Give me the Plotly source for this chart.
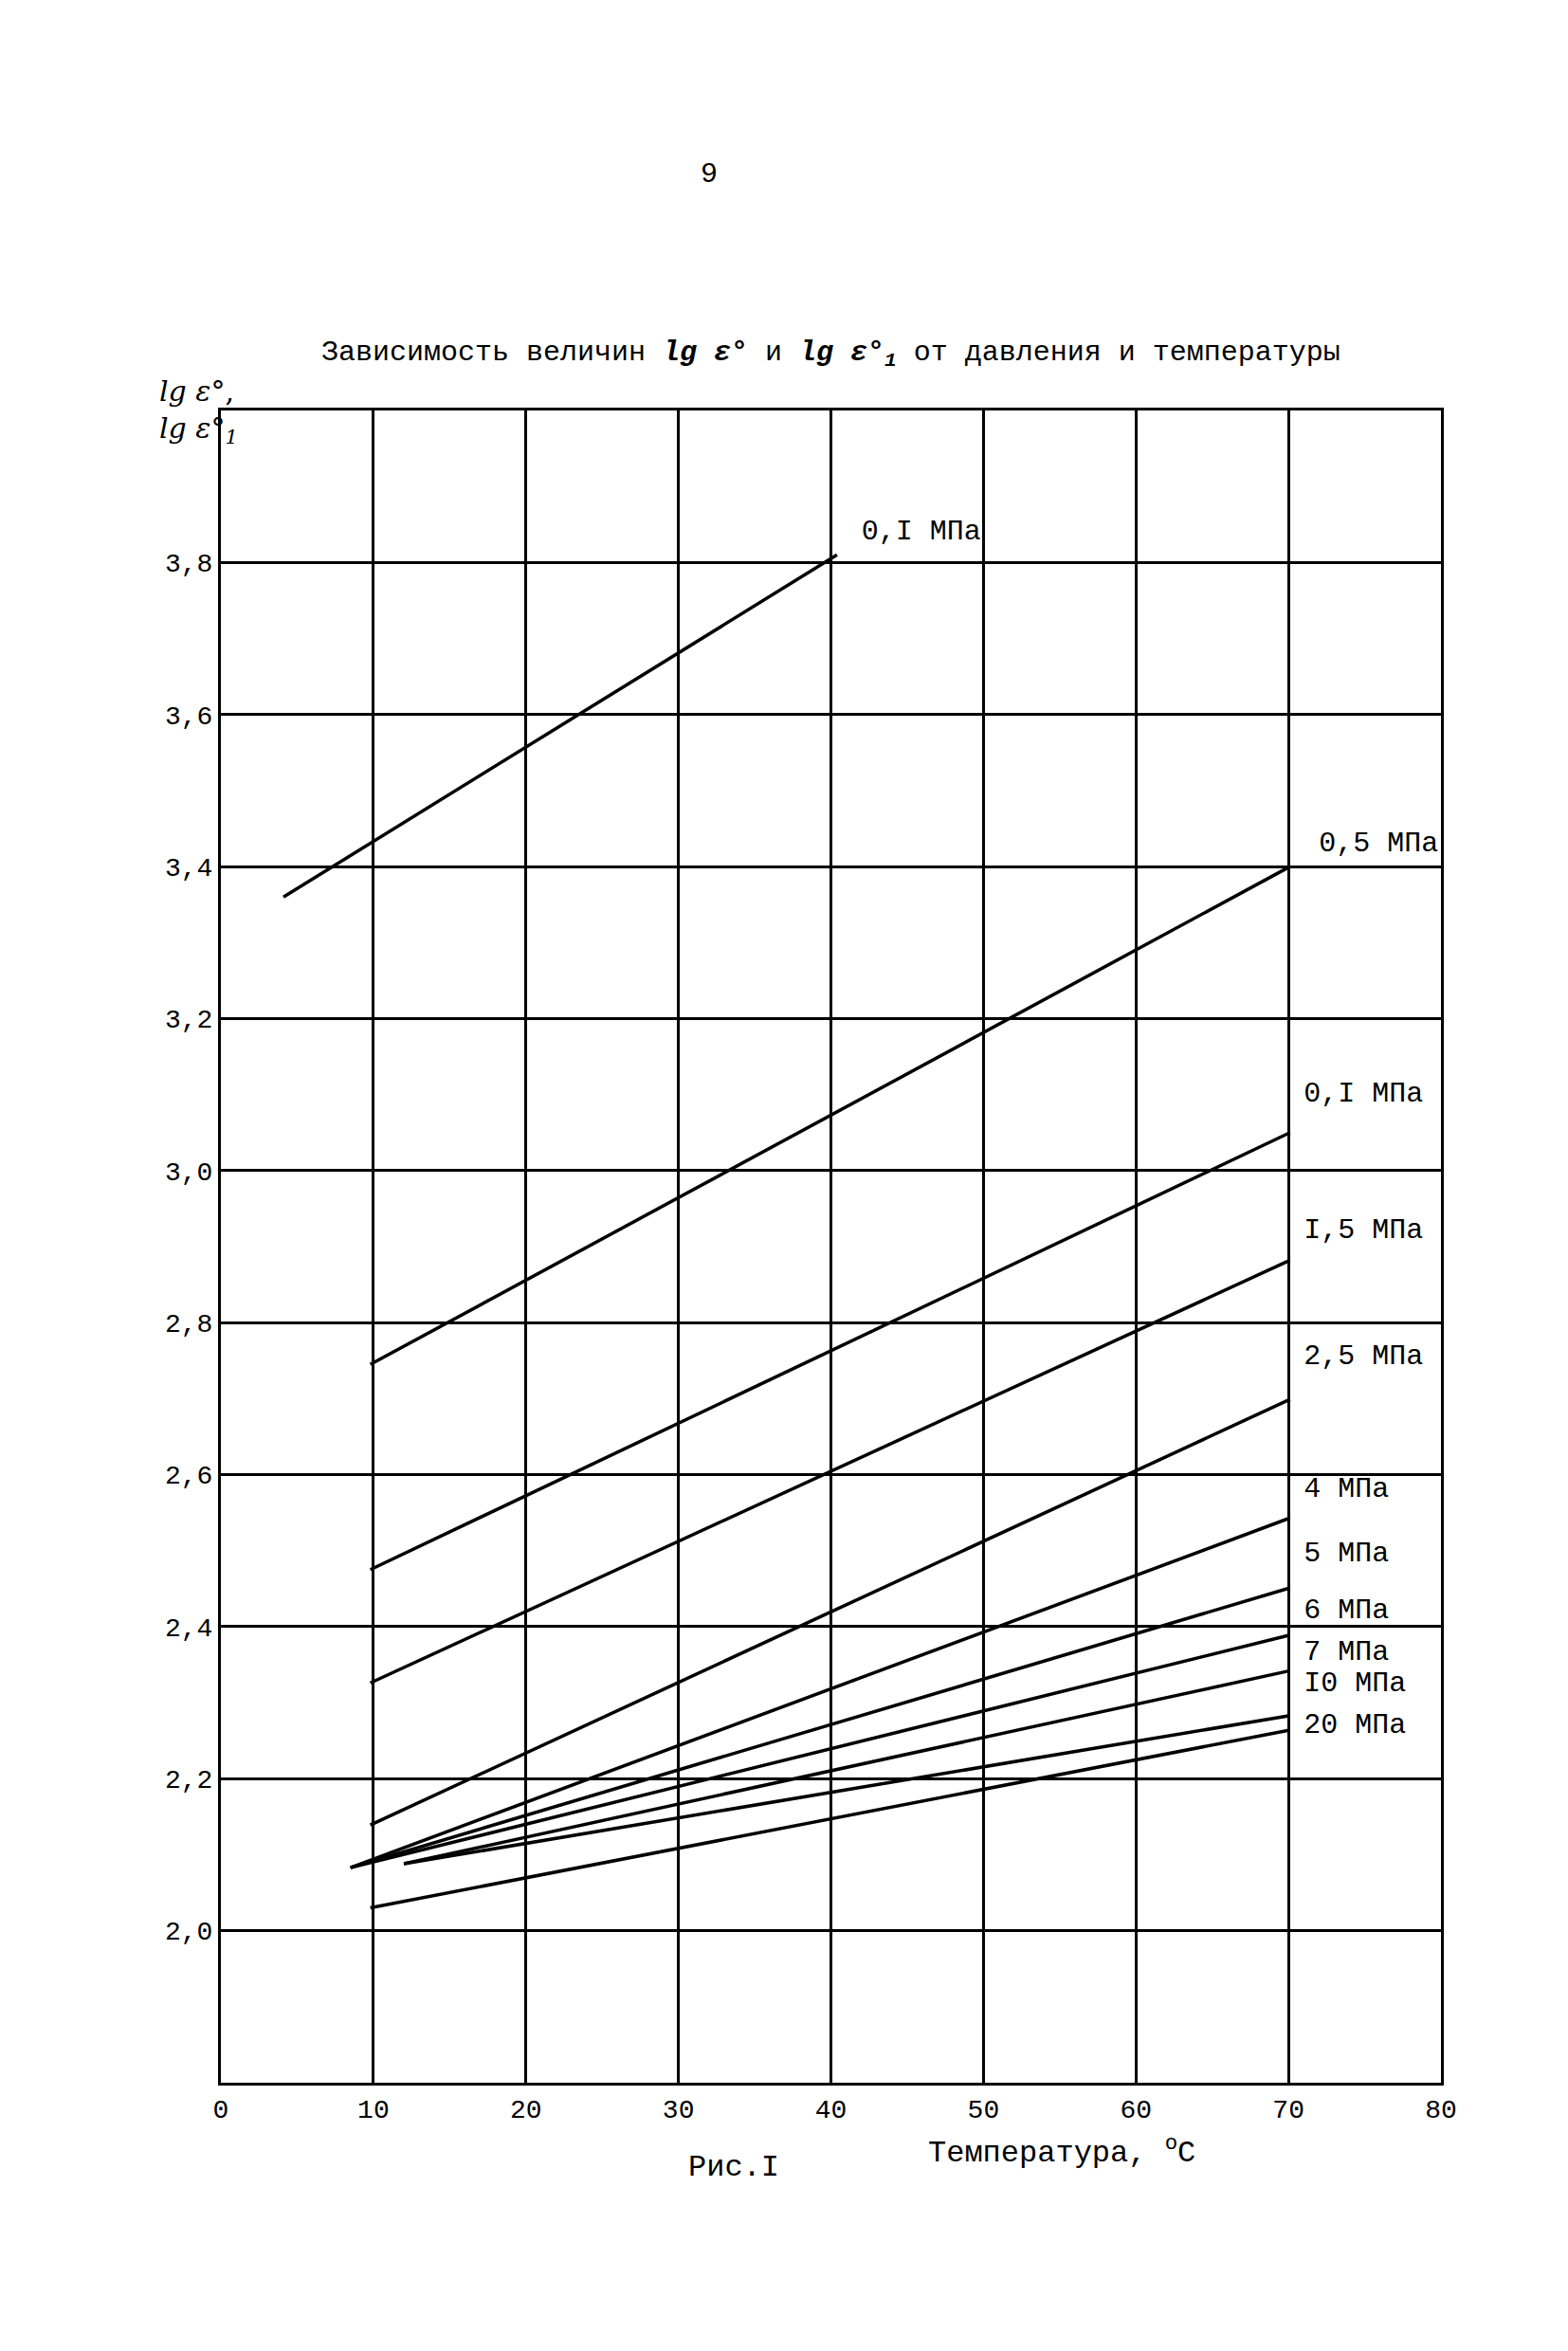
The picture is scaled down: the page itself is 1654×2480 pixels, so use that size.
import plotly.graph_objects as go

labels = ["0,I MПa", "0,5 MПa", "0,I MПa", "I,5 MПa", "2,5 MПa", "4 MПa", "5 MПa", "6 MПa", "7 MПa", "I0 MПa", "20 MПa"]
x_start = [4.1, 9.8, 9.8, 9.8, 9.8, 8.5, 8.5, 8.5, 12.0, 12.0, 9.8]
x_end = [40.4, 70.1, 70.1, 70.1, 70.1, 70.1, 70.1, 70.1, 70.1, 70.1, 70.1]
y_start = [3.36, 2.745, 2.475, 2.326, 2.139, 2.083, 2.083, 2.083, 2.088, 2.088, 2.03]
y_end = [3.81, 3.40, 3.05, 2.882, 2.699, 2.543, 2.451, 2.389, 2.342, 2.283, 2.264]
label_x = [42, 72, 71, 71, 71, 71, 71, 71, 71, 71, 71]
label_y = [3.84, 3.43, 3.10, 2.92, 2.755, 2.58, 2.495, 2.42, 2.365, 2.325, 2.27]
x_ticks = [0, 10, 20, 30, 40, 50, 60, 70, 80]
y_ticks = [2.0, 2.2, 2.4, 2.6, 2.8, 3.0, 3.2, 3.4, 3.6, 3.8]

fig = go.Figure()
for i in range(len(labels)):
    fig.add_trace(go.Scatter(x=[x_start[i], x_end[i]], y=[y_start[i], y_end[i]], mode="lines",
                             line=dict(color="black", width=3.5), showlegend=False))
fig.add_trace(go.Scatter(x=label_x, y=label_y, mode="text", text=labels, textposition="middle right",
                         textfont=dict(family="Liberation Mono", size=30, color="black"), showlegend=False,
                         cliponaxis=False))

font = dict(family="Liberation Mono", color="black")
fig.update_layout(
    width=1654, height=2480, paper_bgcolor="white", plot_bgcolor="white",
    margin=dict(l=225, r=142, t=425, b=291),
    xaxis=dict(range=[0, 80], tickvals=x_ticks, ticktext=[str(v) for v in x_ticks], showgrid=True,
               gridcolor="black", gridwidth=2.5, showline=True, linecolor="black", linewidth=3, mirror=True,
               zeroline=False, tickfont=dict(size=28, **font), ticks=""),
    yaxis=dict(range=[1.8, 4.0], tickvals=y_ticks, ticktext=[f"{v:.1f}".replace(".", ",") for v in y_ticks],
               showgrid=True, gridcolor="black", gridwidth=2.5, showline=True, linecolor="black", linewidth=3,
               mirror=True, zeroline=False, tickfont=dict(size=28, **font), ticks=""),
    annotations=[
        dict(text="9", x=0.4, y=1, xref="paper", yref="paper", yshift=268, showarrow=False, font=dict(size=30, **font)),
        dict(text="Зависимость величин <b><i>lg ε°</i></b> и <b><i>lg ε°<sub>1</sub></i></b> от давления и температуры",
             x=0.5, y=1, xref="paper", yref="paper", yshift=80, showarrow=False, font=dict(size=30, **font)),
        dict(text="<i>lg ε°</i>,<br><i>lg ε°<sub>1</sub></i>", x=0, y=1, xref="paper", yref="paper",
             xanchor="right", yanchor="top", xshift=20, yshift=40, showarrow=False, align="left",
             font=dict(size=30, family="DejaVu Serif", color="black")),
        dict(text="Рис.I", x=0.42, y=0, xref="paper", yref="paper", yshift=-110, showarrow=False,
             font=dict(size=32, **font)),
        dict(text="Температура, <sup>o</sup>C", x=0.8, y=0, xref="paper", yref="paper", yshift=-95,
             showarrow=False, font=dict(size=32, **font)),
    ],
)
fig.write_html("out.html")
